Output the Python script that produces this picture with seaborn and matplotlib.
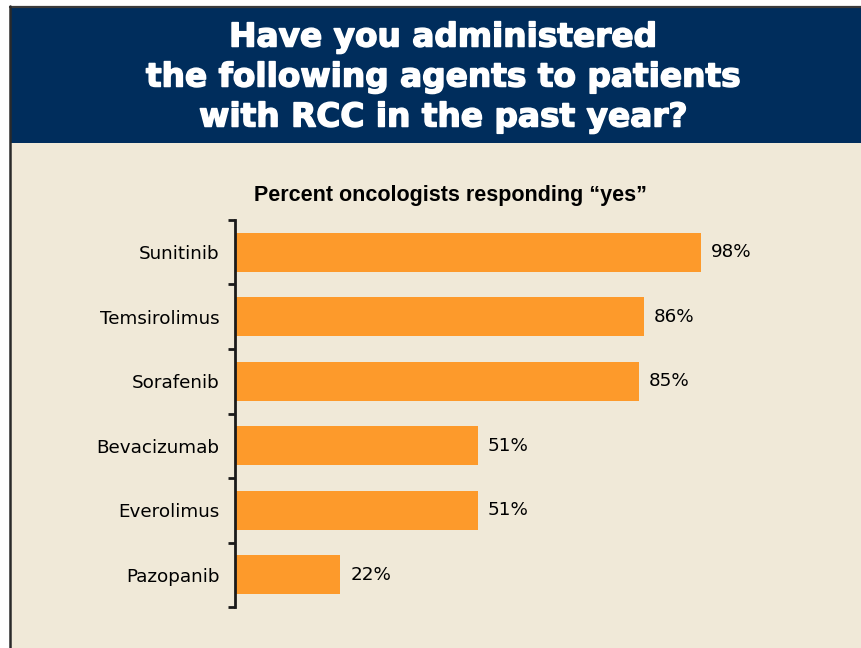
import matplotlib
matplotlib.use("Agg")
import matplotlib.pyplot as plt
from matplotlib.patches import Rectangle
from matplotlib.lines import Line2D
import matplotlib.patheffects as pe
import seaborn as sns
import pandas as pd

agents = ["Sunitinib", "Temsirolimus", "Sorafenib", "Bevacizumab", "Everolimus", "Pazopanib"]
percent_yes = [98, 86, 85, 51, 51, 22]
value_labels = ["98%", "86%", "85%", "51%", "51%", "22%"]

title_lines = ["Have you administered", "the following agents to patients", "with RCC in the past year?"]
subtitle = "Percent oncologists responding \u201cyes\u201d"

NAVY = "#002d5c"
BEIGE = "#f0e9d8"
ORANGE = "#fd9a2b"

sns.set_theme(style="white")
plt.rcParams["font.family"] = ["DejaVu Sans"]

W, H = 862, 648
fig = plt.figure(figsize=(W / 100, H / 100), dpi=100)
fig.patch.set_facecolor("white")

def fx(px):
    return px / W

def fy(py):
    return 1 - py / H

# beige page body and navy header band
fig.add_artist(Rectangle((fx(11), 0), 1 - fx(11), fy(7), transform=fig.transFigure,
                         facecolor=BEIGE, edgecolor="none", zorder=0))
fig.add_artist(Rectangle((fx(11), fy(143)), 1 - fx(11), fy(7) - fy(143),
                         transform=fig.transFigure, facecolor=NAVY, edgecolor="none", zorder=1))
# thin frame lines at top and left
fig.add_artist(Line2D([fx(10), 1], [fy(6.5), fy(6.5)], transform=fig.transFigure,
                      color="#3a3a3a", lw=1.6, zorder=2))
fig.add_artist(Line2D([fx(10.5), fx(10.5)], [0, fy(6)], transform=fig.transFigure,
                      color="#2a2a2a", lw=1.8, zorder=2))

heavy = [pe.withStroke(linewidth=1.1, foreground="white")]
for i, line in enumerate(title_lines):
    fig.text(fx(443), fy(37 + 40 * i), line, ha="center", va="center", color="white",
             fontsize=23.6, fontweight="bold", family=["DejaVu Sans"], zorder=3,
             path_effects=heavy)

fig.text(fx(450), fy(195), subtitle, ha="center", va="center", color="black",
         fontsize=15.5, fontweight="bold", family=["Liberation Sans"], zorder=3)

ax = fig.add_axes([fx(236), fy(607), 1 - fx(236), fy(220) - fy(607)])
ax.set_facecolor("none")

df = pd.DataFrame({"agent": agents, "pct": percent_yes})
sns.barplot(data=df, x="pct", y="agent", ax=ax, color=ORANGE, saturation=1,
            width=0.6, orient="h")
for p in ax.patches:
    p.set_edgecolor("none")

ax.set_xlim(0, 132)
ax.set_ylim(len(agents) - 0.5, -0.5)
ax.set_xlabel("")
ax.set_ylabel("")
ax.set_xticks([])

for i, (v, lab) in enumerate(zip(percent_yes, value_labels)):
    ax.text(v + 2.1, i, lab, ha="left", va="center", fontsize=13.2, color="black")

for side in ["top", "right", "bottom"]:
    ax.spines[side].set_visible(False)
ax.spines["left"].set_color("#1a1a1a")
ax.spines["left"].set_linewidth(2)
ax.spines["left"].set_position(("outward", 1))

ax.set_yticks(range(len(agents)))
ax.set_yticklabels(agents, fontsize=13.2, color="black")
ax.set_yticks([i - 0.5 for i in range(len(agents) + 1)], minor=True)
ax.tick_params(axis="y", which="major", length=0, pad=10.7)
ax.tick_params(axis="y", which="minor", length=5, width=2, color="#1a1a1a", left=True)

fig.savefig("out.png", dpi=100, facecolor=fig.get_facecolor())
